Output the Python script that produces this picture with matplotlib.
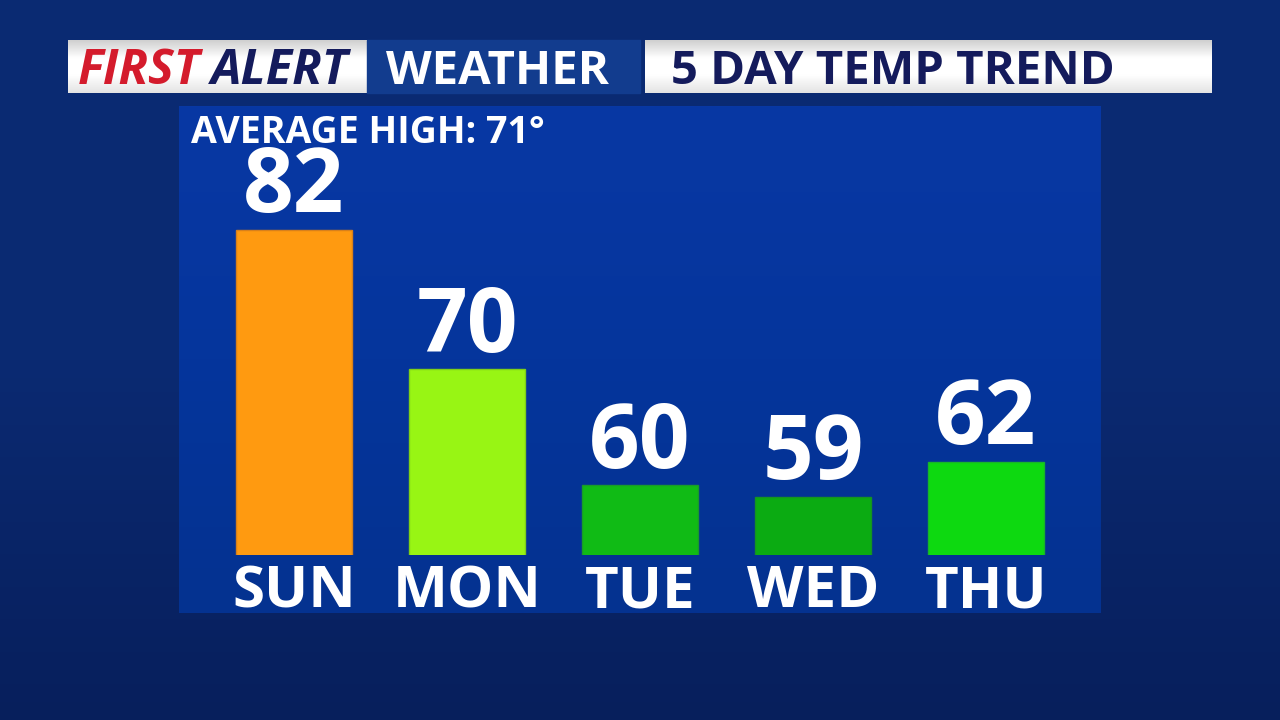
import matplotlib
matplotlib.use("Agg")
import matplotlib.pyplot as plt
from matplotlib.colors import LinearSegmentedColormap
from matplotlib.patches import Rectangle
import numpy as np

# chart data
days = ["SUN", "MON", "TUE", "WED", "THU"]
highs = [82, 70, 60, 59, 62]
bar_colors = ["#ff9a10", "#98f514", "#10bb15", "#0bab12", "#0dd910"]
edge_colors = ["#d8801a", "#7fcf18", "#1a9a2a", "#169222", "#18b42a"]
avg_high = 71

plt.rcParams['font.family'] = ['Open Sans', 'DejaVu Sans']

fig = plt.figure(figsize=(12.8, 7.2), dpi=100)
fig.patch.set_facecolor("#0a266c")

# background + header drawn in pixel coordinates
bg = fig.add_axes([0, 0, 1, 1], zorder=0)
bg.axis("off")
vert = np.linspace(0, 1, 200).reshape(-1, 1)
bg.imshow(vert, extent=(0, 1280, 720, 0), aspect="auto", zorder=0,
          cmap=LinearSegmentedColormap.from_list("bgc", ["#0a2a72", "#0b2a72", "#071f5c"]))

grad = LinearSegmentedColormap.from_list("hdr", ["#d0d0d0", "#ffffff", "#ffffff", "#e4e4e4"])
hg = np.linspace(0, 1, 50).reshape(-1, 1)
bg.imshow(hg, extent=(68, 367, 93, 40), cmap=grad, aspect="auto", zorder=1)
bg.add_patch(Rectangle((367, 40), 273, 53, color="#123c8e", zorder=1))
bg.imshow(hg, extent=(645, 1212, 93, 40), cmap=grad, aspect="auto", zorder=1)
bg.set_xlim(0, 1280)
bg.set_ylim(720, 0)

bg.text(78, 84, "FIRST", color="#d41b2c", fontsize=35, fontweight="bold", style="italic",
        va="baseline", ha="left", zorder=2)
bg.text(211, 84, "ALERT", color="#141b5c", fontsize=35, fontweight="bold", style="italic",
        va="baseline", ha="left", zorder=2)
bg.text(386, 84, "WEATHER", color="white", fontsize=34, fontweight="bold",
        va="baseline", ha="left", zorder=2)
bg.text(671, 84, "5 DAY TEMP TREND", color="#141b5c", fontsize=34, fontweight="bold",
        va="baseline", ha="left", zorder=2)

# panel behind the bars
bg.imshow(vert, extent=(179, 1101, 613, 106), aspect="auto", zorder=1,
          cmap=LinearSegmentedColormap.from_list("pnl", ["#0838a4", "#05359c", "#043290"]))
bg.text(191, 143, "AVERAGE HIGH: %d°" % avg_high, color="white", fontsize=27,
        fontweight="bold", va="baseline", ha="left", zorder=2)

# bar chart axes (bottom of axes = bar baseline)
ax = fig.add_axes([179 / 1280, (720 - 555) / 720, 922 / 1280, 449 / 720], zorder=1)
ax.patch.set_alpha(0)
x = np.arange(len(days))
ax.bar(x, highs, width=0.67, color=bar_colors, edgecolor=edge_colors, linewidth=1)
ax.set_xlim(-0.665, 4.665)
ax.set_ylim(54, 92.7)
for s in ax.spines.values():
    s.set_visible(False)
ax.set_xticks([])
ax.set_yticks([])
for xi, v in zip(x, highs):
    ax.annotate(str(v), (xi, v), xytext=(0, -3), textcoords="offset points",
                ha="center", va="bottom", color="white", fontsize=64, fontweight="bold")
for xi, d in zip(x, days):
    ax.annotate(d, (xi, 54), xytext=(0, -6), textcoords="offset points",
                ha="center", va="top", color="white", fontsize=42, fontweight="bold",
                annotation_clip=False)

fig.savefig("out.png", dpi=100, facecolor=fig.get_facecolor())
